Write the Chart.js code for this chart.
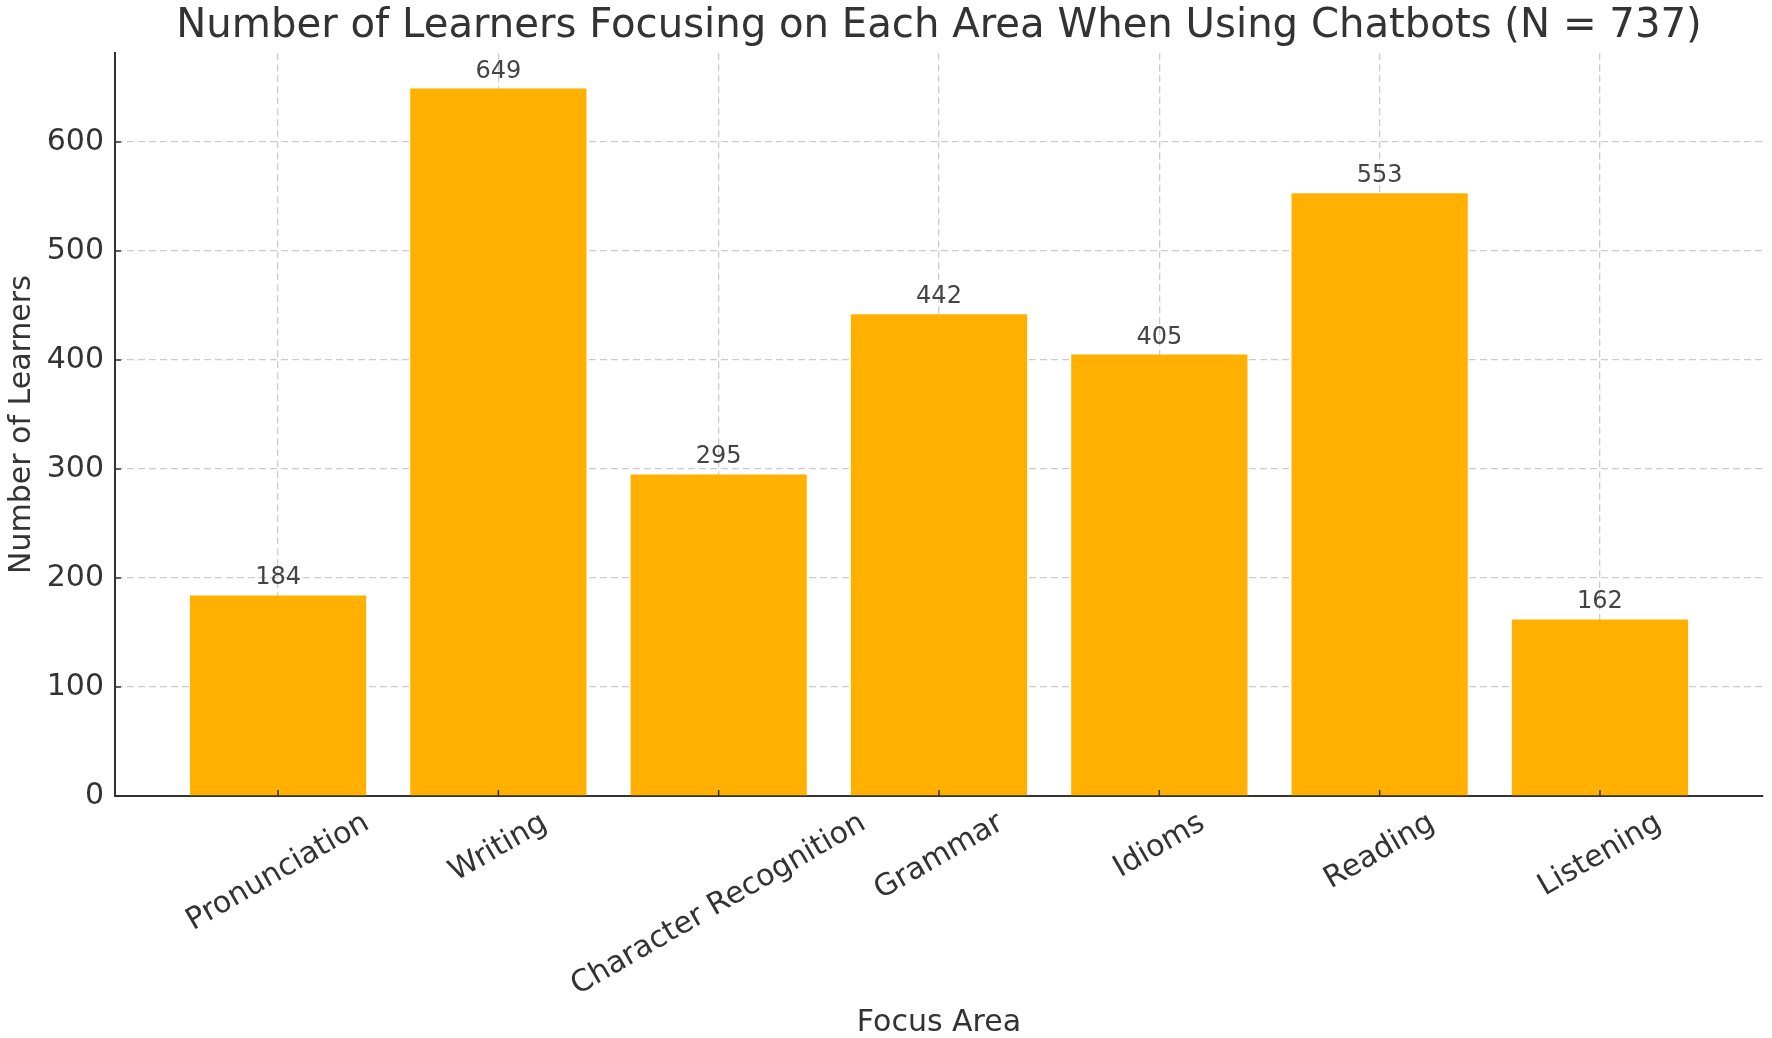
<!DOCTYPE html>
<html>
<head>
<meta charset="utf-8">
<script src="https://cdn.jsdelivr.net/npm/chart.js@4.4.1/dist/chart.umd.min.js"></script>
<style>
  html, body { margin: 0; padding: 0; background: #fff; }
  canvas { display: block; }
</style>
</head>
<body>
<canvas id="myChart" width="1772" height="1038"></canvas>
<script>
// chart values
const categories = ['Pronunciation', 'Writing', 'Character Recognition', 'Grammar', 'Idioms', 'Reading', 'Listening'];
const learners = [184, 649, 295, 442, 405, 553, 162];
const yTickValues = [0, 100, 200, 300, 400, 500, 600];

const FONT = "'DejaVu Sans', sans-serif";
const TEXT = '#333333';

// matplotlib-like padding: bars are 0.8 wide, 5% margin on each side
const xMin = -0.74;
const xMax = categories.length - 1 + 0.74;
const yMax = Math.max(...learners) * 1.05;

const overlay = {
  id: 'overlay',
  afterDraw(chart) {
    const ctx = chart.ctx;
    const x = chart.scales.x;
    const y = chart.scales.y;
    const area = chart.chartArea;
    ctx.save();

    // inward tick marks
    ctx.strokeStyle = TEXT;
    ctx.lineWidth = 1.5;
    categories.forEach((c, i) => {
      const px = x.getPixelForValue(i);
      ctx.beginPath();
      ctx.moveTo(px, area.bottom);
      ctx.lineTo(px, area.bottom - 6);
      ctx.stroke();
    });
    yTickValues.forEach(v => {
      const py = y.getPixelForValue(v);
      ctx.beginPath();
      ctx.moveTo(area.left, py);
      ctx.lineTo(area.left + 6, py);
      ctx.stroke();
    });

    // value labels above bars
    ctx.fillStyle = '#444444';
    ctx.font = '24px ' + FONT;
    ctx.textAlign = 'center';
    ctx.textBaseline = 'alphabetic';
    learners.forEach((v, i) => {
      ctx.fillText(String(v), x.getPixelForValue(i), y.getPixelForValue(v) - 11);
    });

    // rotated category labels, centred under each tick
    ctx.fillStyle = TEXT;
    ctx.font = '30px ' + FONT;
    ctx.textAlign = 'center';
    ctx.textBaseline = 'middle';
    const ang = 30 * Math.PI / 180;
    const top = area.bottom + 12;
    categories.forEach((c, i) => {
      const w = ctx.measureText(c).width;
      const h = 30;
      const boxH = w * Math.sin(ang) + h * Math.cos(ang);
      ctx.save();
      ctx.translate(x.getPixelForValue(i), top + boxH / 2);
      ctx.rotate(-ang);
      ctx.fillText(c, 0, 0);
      ctx.restore();
    });

    ctx.restore();
  }
};

const ctx = document.getElementById('myChart').getContext('2d');

const myChart = new Chart(ctx, {
  type: 'bar',
  data: {
    datasets: [{
      label: 'Learners',
      data: learners.map((v, i) => ({ x: i, y: v })),
      backgroundColor: '#FFB000',
      borderWidth: 0,
      barPercentage: 0.8,
      categoryPercentage: 1.0
    }]
  },
  options: {
    responsive: false,
    devicePixelRatio: 1,
    animation: false,
    layout: { padding: { left: 0, right: 9, top: 0, bottom: 0 } },
    plugins: {
      legend: { display: false },
      tooltip: { enabled: false },
      title: {
        display: true,
        fullSize: false,
        text: 'Number of Learners Focusing on Each Area When Using Chatbots (N = 737)',
        color: TEXT,
        font: { family: FONT, size: 40.2, weight: 'normal' },
        padding: { top: 2, bottom: 3 }
      }
    },
    scales: {
      x: {
        type: 'linear',
        min: xMin,
        max: xMax,
        offset: false,
        z: 1,
        afterBuildTicks: (scale) => { scale.ticks = categories.map((c, i) => ({ value: i })); },
        afterFit: (scale) => { scale.height = 242; },
        ticks: { display: false },
        grid: {
          offset: false,
          color: '#cccccc',
          lineWidth: 1.3,
          drawTicks: false
        },
        border: { display: true, color: TEXT, width: 2, dash: [7, 4] },
        title: {
          display: true,
          text: 'Focus Area',
          color: TEXT,
          font: { family: FONT, size: 30, lineHeight: 1.0 },
          padding: { top: 0, bottom: 0 }
        }
      },
      y: {
        min: 0,
        max: yMax,
        z: 1,
        afterBuildTicks: (scale) => { scale.ticks = yTickValues.map(v => ({ value: v })); },
        afterFit: (scale) => { scale.width = 115; },
        ticks: {
          color: TEXT,
          font: { family: FONT, size: 30 },
          padding: 11
        },
        grid: {
          color: '#cccccc',
          lineWidth: 1.3,
          drawTicks: false
        },
        border: { display: true, color: TEXT, width: 2, dash: [7, 4] },
        title: {
          display: true,
          text: 'Number of Learners',
          color: TEXT,
          font: { family: FONT, size: 30 },
          padding: { top: 4, bottom: 0 }
        }
      }
    }
  },
  plugins: [overlay]
});
</script>
</body>
</html>
